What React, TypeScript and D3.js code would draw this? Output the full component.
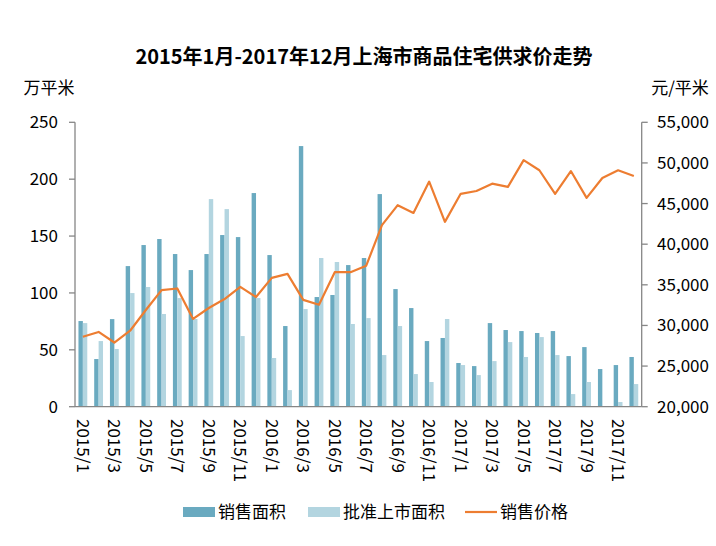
import React from 'react';
import * as d3 from 'd3';

// months 2015/1 .. 2017/12
const months: string[] = [];
[2015, 2016, 2017].forEach(y => {
  for (let m = 1; m <= 12; m++) months.push(`${y}/${m}`);
});

// 销售面积 (万平米)
const salesArea = [
  75.3, 41.9, 77, 123.6, 142.1, 147.4, 134.2, 120.1, 134.2, 150.9, 149.1, 187.8,
  133.3, 70.9, 229.1, 96.4, 98.2, 124.5, 130.7, 186.9, 103.4, 86.7, 57.7, 60.4,
  38.4, 35.7, 73.5, 67.4, 66.5, 64.8, 66.5, 44.5, 52.4, 33.1, 36.6, 43.7
];

// 批准上市面积 (万平米)
const approvedArea = [
  73.5, 57.7, 50.7, 99.9, 105.2, 81.5, 95.5, 77.1, 182.5, 173.7, 62.1, 95.5,
  42.8, 14.6, 85.8, 130.7, 127.2, 72.7, 77.9, 45.4, 70.9, 28.7, 21.7, 77.1,
  36.6, 27.8, 40.1, 56.8, 43.7, 61.2, 45.4, 11.1, 21.7, 0, 4.1, 19.9
];

// 销售价格 (元/平米)
const salesPrice = [
  28600, 29200, 27900, 29350, 31900, 34350, 34550, 30800, 32150, 33250, 34750, 33500,
  35850, 36350, 33150, 32550, 36550, 36550, 37350, 42350, 44800, 43850, 47700, 42750,
  46200, 46550, 47450, 47050, 50350, 49100, 46200, 49000, 45700, 48150, 49100, 48400
];

const leftTicks = [0, 50, 100, 150, 200, 250];
const rightTicks = [20000, 25000, 30000, 35000, 40000, 45000, 50000, 55000];

const DARK = '#6aaac0';
const LIGHT = '#b3d5e0';
const ORANGE = '#ed7d31';
const AXIS = '#868686';
const FONT = '"Noto Sans CJK SC", "Noto Sans", sans-serif';

const App: React.FC = () => {
  const width = 716;
  const height = 546;
  const left = 75;
  const right = 641.7;
  const top = 122.3;
  const bottom = 406.7;

  const x = d3.scaleBand<string>().domain(months).range([left, right]);
  const yL = d3.scaleLinear().domain([0, 250]).range([bottom, top]);
  const yR = d3.scaleLinear().domain([20000, 55000]).range([bottom, top]);
  const barW = x.bandwidth() * 0.28;

  const line = d3.line<number>()
    .x((_, i) => (x(months[i]) as number) + x.bandwidth() / 2)
    .y(d => yR(d));

  const fmt = d3.format(',');

  return (
    <div style={{ position: 'fixed', left: 0, top: 0 }}>
      <svg width={width} height={height} style={{ display: 'block', background: '#fff' }} fontFamily={FONT}>
        <text x={364} y={64} textAnchor="middle" fontSize={20} fontWeight="bold" fill="#000">
          2015年1月-2017年12月上海市商品住宅供求价走势
        </text>
        <text x={49} y={94} textAnchor="middle" fontSize={17} fill="#000">万平米</text>
        <text x={680} y={94} textAnchor="middle" fontSize={17} fill="#000">元/平米</text>

        {/* bars */}
        {months.map((m, i) => {
          const cx = (x(m) as number) + x.bandwidth() / 2;
          return (
            <g key={m}>
              <rect x={cx - barW} y={yL(salesArea[i])} width={barW} height={bottom - yL(salesArea[i])} fill={DARK} />
              <rect x={cx} y={yL(approvedArea[i])} width={barW} height={bottom - yL(approvedArea[i])} fill={LIGHT} />
            </g>
          );
        })}

        {/* left axis */}
        <line x1={left} x2={left} y1={top} y2={bottom} stroke={AXIS} strokeWidth={1.3} />
        {leftTicks.map(t => (
          <g key={t}>
            <line x1={left - 6} x2={left} y1={yL(t)} y2={yL(t)} stroke={AXIS} strokeWidth={1.3} />
            <text x={58} y={yL(t) + 6} textAnchor="end" fontSize={17} fill="#000">{t}</text>
          </g>
        ))}

        {/* right axis */}
        <line x1={right} x2={right} y1={top} y2={bottom} stroke={AXIS} strokeWidth={1.3} />
        {rightTicks.map(t => (
          <g key={t}>
            <line x1={right} x2={right + 6} y1={yR(t)} y2={yR(t)} stroke={AXIS} strokeWidth={1.3} />
            <text x={709} y={yR(t) + 6} textAnchor="end" fontSize={17} fill="#000">{fmt(t)}</text>
          </g>
        ))}

        {/* x axis */}
        <line x1={left} x2={right} y1={bottom} y2={bottom} stroke={AXIS} strokeWidth={1.3} />
        {months.map((m, i) => {
          if (i % 2 !== 0) return null;
          const cx = (x(m) as number) + x.bandwidth() / 2;
          return (
            <text key={m} transform={`translate(${cx - 6},${419}) rotate(90)`} fontSize={17} fill="#000">
              {m}
            </text>
          );
        })}

        {/* price line */}
        <path d={line(salesPrice) || ''} fill="none" stroke={ORANGE} strokeWidth={2.2} strokeLinejoin="round" />

        {/* legend */}
        <rect x={183} y={507} width={32} height={10} fill={DARK} />
        <text x={218} y={518} fontSize={17} fill="#000">销售面积</text>
        <rect x={308} y={507} width={32} height={10} fill={LIGHT} />
        <text x={343} y={518} fontSize={17} fill="#000">批准上市面积</text>
        <line x1={465} x2={497} y1={512} y2={512} stroke={ORANGE} strokeWidth={2.2} />
        <text x={500} y={518} fontSize={17} fill="#000">销售价格</text>
      </svg>
    </div>
  );
};

export default App;
